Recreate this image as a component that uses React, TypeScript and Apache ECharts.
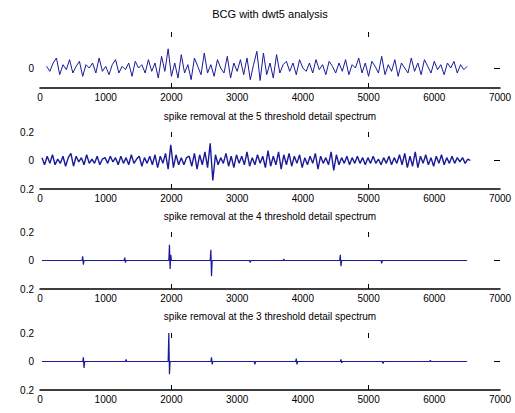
import React, { useEffect, useRef } from "react";
import * as echarts from "echarts";

const mainTitle = "BCG with dwt5 analysis";
const subTitles = [
  "spike removal at the 5 threshold detail spectrum",
  "spike removal at the 4 threshold detail spectrum",
  "spike removal at the 3 threshold detail spectrum",
];

const xTicks = [0, 1000, 2000, 3000, 4000, 5000, 6000, 7000];
const markedTicks = [2000, 5000];

// Panel 1: raw signal, sampled every 50 from x = 100
const raw0Start = 100;
const raw0Step = 50;
const raw0Values = [
  0.1, -0.2, 0.3, 0.6, -0.4, 0.2, -0.1, 0.5, -0.3, 0.1,
  0.4, -0.5, 0.2, 0.0, 0.3, -0.3, 0.6, -0.2, 0.1, -0.4,
  0.2, 0.5, -0.3, 0.1, -0.1, 0.3, -0.5, 0.4, 0.0, 0.2,
  -0.3, 0.5, -0.2, 0.3, -0.6, 0.7, -0.2, 1.15, -0.5, 0.3,
  -0.6, 0.8, -0.3, 0.2, -0.7, 0.6, 0.1, -0.4, 0.9, -0.3,
  0.2, -0.5, 0.5, 0.0, -0.3, 0.7, -0.6, 0.3, -0.2, 0.5,
  -0.4, 0.6, -0.7, 0.2, 1.0, -0.75, 0.9, -0.4, 0.3, -0.6,
  0.8, -0.3, 0.2, 0.4, -0.2, 0.3, -0.4, 0.5, 0.0, -0.2,
  0.3, -0.3, 0.5, -0.1, 0.2, -0.4, 0.4, 0.1, -0.3, 0.3,
  -0.2, 0.5, -0.4, 0.2, 0.0, 0.6, -0.3, 0.3, -0.5, 0.4,
  0.1, -0.3, 0.7, -0.4, 0.2, -0.2, 0.5, -0.5, 0.3, 0.0,
  -0.3, 0.6, -0.2, 0.3, -0.4, 0.5, 0.1, -0.3, 0.4, -0.1,
  0.2, -0.4, 0.3, 0.0, 0.4, -0.3, 0.2, -0.1, 0.1,
];

// Panel 2: level-5 detail, sampled every 40 from x = 30
const lvl5Start = 30;
const lvl5Step = 40;
const lvl5Values = [
  0.02, -0.03, 0.03, -0.02, 0.04, -0.03, 0.01, -0.02, 0.03, -0.04,
  0.02, 0.05, -0.04, 0.03, -0.01, 0.02, -0.03, 0.04, -0.02, 0.01,
  -0.02, 0.03, -0.03, 0.01, 0.02, -0.02, 0.03, -0.01, 0.02, -0.03,
  0.03, -0.02, 0.02, -0.03, 0.04, -0.02, 0.01, 0.03, -0.04, 0.02,
  -0.02, 0.03, -0.03, 0.04, -0.05, 0.03, -0.02, 0.05, -0.06, 0.11,
  -0.05, 0.04, -0.03, 0.02, -0.03, 0.02, 0.03, -0.04, 0.05, -0.06,
  0.04, -0.03, 0.06, -0.05, 0.12, -0.14, 0.04, -0.03, 0.02, -0.02,
  0.05, -0.04, 0.03, -0.05, 0.04, -0.02, 0.03, -0.03, 0.06, -0.04,
  0.02, -0.03, 0.04, -0.02, 0.03, -0.05, 0.07, -0.04, 0.03, -0.03,
  0.06, -0.06, 0.04, -0.03, 0.05, -0.04, 0.03, -0.02, 0.04, -0.05,
  0.02, -0.03, 0.03, -0.02, 0.05, -0.06, 0.03, -0.02, 0.02, -0.03,
  0.06, -0.07, 0.04, -0.03, 0.02, -0.02, 0.03, -0.03, 0.02, -0.02,
  0.03, -0.02, 0.02, -0.03, 0.02, -0.02, 0.03, -0.02, 0.01, -0.03,
  0.02, -0.02, 0.03, -0.03, 0.02, -0.02, 0.04, -0.03, 0.05, -0.05,
  0.03, -0.04, 0.06, -0.05, 0.03, -0.02, 0.04, -0.03, 0.02, -0.04,
  0.03, -0.02, 0.04, -0.03, 0.02, -0.02, 0.03, -0.02, 0.02, -0.01,
  0.02, -0.02, 0.01, 0.0,
];

// Panel 3: level-4 detail, [x, y]
const lvl4Points: [number, number][] = [
  [30, 0], [640, 0], [650, 0.03], [660, -0.03], [670, 0],
  [1280, 0], [1290, 0.02], [1300, -0.015], [1310, 0],
  [1960, 0], [1970, 0.11], [1980, -0.06], [1990, 0.04], [2000, 0],
  [2590, 0], [2600, 0.075], [2610, -0.11], [2620, 0],
  [3190, 0], [3200, -0.015], [3210, 0],
  [3700, 0], [3710, 0.01], [3720, 0],
  [4560, 0], [4570, 0.04], [4580, -0.04], [4590, 0],
  [5190, 0], [5200, -0.02], [5210, 0],
  [6500, 0],
];

// Panel 4: level-3 detail, [x, y]
const lvl3Points: [number, number][] = [
  [30, 0], [650, 0], [660, 0.03], [670, -0.045], [680, 0],
  [1300, 0], [1310, 0.015], [1320, 0],
  [1950, 0], [1960, 0.2], [1970, -0.09], [1980, 0],
  [2600, 0], [2610, 0.03], [2620, -0.02], [2630, 0],
  [3260, 0], [3270, -0.02], [3280, 0],
  [3890, 0], [3900, 0.02], [3910, -0.02], [3920, 0],
  [4570, 0], [4580, 0.015], [4590, -0.01], [4600, 0],
  [5210, 0], [5220, -0.015], [5230, 0],
  [5930, 0], [5940, 0.008], [5950, 0],
  [6500, 0],
];

const panel1Y = { min: -1.2, max: 2.16, labels: [0] };
const panelY = { min: -0.2, max: 0.2, labels: [-0.2, 0, 0.2] };

export default function App() {
  const ref = useRef<HTMLDivElement>(null);
  useEffect(() => {
    if (!ref.current) return;
    const chart = echarts.init(ref.current, undefined, { renderer: "svg" });
    const font = "Liberation Sans, Arial, sans-serif";
    const lineColor = "#1a1a9a";
    const grids = [
      { left: 40, width: 460, top: 32, height: 56 },
      { left: 40, width: 460, top: 132, height: 57 },
      { left: 40, width: 460, top: 232, height: 57 },
      { left: 40, width: 460, top: 333, height: 57 },
    ];
    const xAxes: any[] = [];
    const yAxes: any[] = [];
    grids.forEach((_, i) => {
      xAxes.push({
        type: "value",
        gridIndex: i,
        min: 0,
        max: 7000,
        interval: 1000,
        position: "bottom",
        splitLine: { show: false },
        axisLine: { show: true, onZero: false, lineStyle: { color: "#000", width: 1.5 } },
        axisTick: { show: true, inside: true, length: 5, customValues: markedTicks, lineStyle: { color: "#000" } },
        axisLabel: { show: true, color: "#000", fontSize: 10, fontFamily: font, margin: 4, customValues: xTicks, formatter: (v: number) => String(v) },
      });
      xAxes.push({
        type: "value",
        gridIndex: i,
        min: 0,
        max: 7000,
        interval: 1000,
        position: "top",
        splitLine: { show: false },
        axisLine: { show: false, onZero: false },
        axisTick: { show: true, inside: true, length: 5, customValues: markedTicks, lineStyle: { color: "#000" } },
        axisLabel: { show: false },
      });
      const yc = i === 0 ? panel1Y : panelY;
      yAxes.push({
        type: "value",
        gridIndex: i,
        min: yc.min,
        max: yc.max,
        position: "left",
        splitLine: { show: false },
        axisLine: { show: false, onZero: false },
        axisTick: { show: false },
        axisLabel: {
          show: true,
          color: "#000",
          fontSize: 10,
          fontFamily: font,
          margin: 6,
          customValues: yc.labels,
          formatter: (v: number) => String(Math.abs(v)),
        },
      });
      yAxes.push({
        type: "value",
        gridIndex: i,
        min: yc.min,
        max: yc.max,
        position: "right",
        splitLine: { show: false },
        axisLine: { show: false, onZero: false },
        axisTick: { show: true, inside: true, length: 6, customValues: [0], lineStyle: { color: "#000" } },
        axisLabel: { show: false },
      });
    });

    const raw0Data = raw0Values.map((v, i) => [raw0Start + i * raw0Step, v]);
    const lvl5Data = lvl5Values.map((v, i) => [lvl5Start + i * lvl5Step, v]);
    const datas = [raw0Data, lvl5Data, lvl4Points, lvl3Points];
    const widths = [1, 1.4, 1.2, 1.2];
    const series = datas.map((d, i) => ({
      type: "line",
      xAxisIndex: i * 2,
      yAxisIndex: i * 2,
      data: d,
      showSymbol: false,
      symbol: "none",
      lineStyle: { color: lineColor, width: widths[i] },
    }));

    const titleYs = [14, 116, 216, 316];
    const titleTexts = [mainTitle, ...subTitles];
    const graphic = titleTexts.map((t, i) => ({
      type: "text",
      x: 270,
      y: titleYs[i],
      style: {
        text: t,
        fill: "#000",
        fontSize: i === 0 ? 11 : 10,
        fontFamily: font,
        align: "center",
        verticalAlign: "middle",
      },
    }));

    chart.setOption({
      animation: false,
      backgroundColor: "#fff",
      grid: grids,
      xAxis: xAxes,
      yAxis: yAxes,
      series,
      graphic,
    });
    return () => chart.dispose();
  }, []);
  return (
    <div
      ref={ref}
      style={{ position: "fixed", left: 0, top: 0, width: 515, height: 413 }}
    />
  );
}
